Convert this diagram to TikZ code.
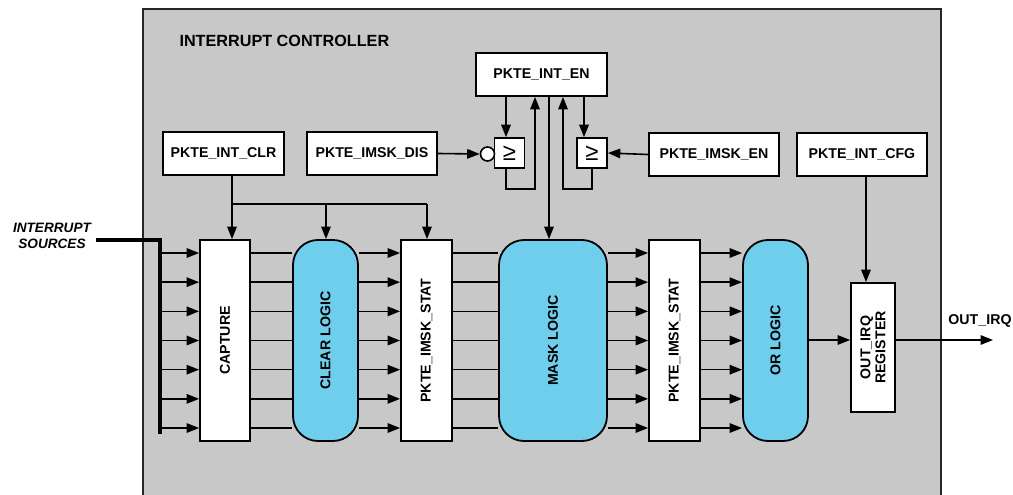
\documentclass[tikz,border=0pt]{standalone}
\usepackage{fontspec}
\setmainfont{Liberation Sans}
\usetikzlibrary{arrows.meta,calc}
\definecolor{ctrlgray}{HTML}{C8C8C8}
\definecolor{logicblue}{HTML}{6ECEEC}
\begin{document}
\begin{tikzpicture}[x=1pt,y=-1pt,
  lbl/.style={font=\fontsize{14.2}{15.5}\selectfont\bfseries},
  reg/.style={draw=black,fill=white,line width=1.8pt,inner sep=0pt,lbl},
  blob/.style={draw=black,fill=logicblue,line width=1.8pt,inner sep=0pt,rounded corners=25pt},
  cmp/.style={draw=black,fill=white,line width=1.6pt,inner sep=0pt,minimum width=30pt,minimum height=30pt,font=\fontsize{24}{24}\selectfont},
  vlbl/.style={rotate=90,lbl,align=center},
  wire/.style={line width=1.6pt},
  arr/.style={wire,-{Triangle[length=12.5pt,width=9.5pt]}},
]
\useasboundingbox (0,0) rectangle (1013,495);
% outer controller
\fill[ctrlgray] (143,9) rectangle (941,500);
\draw[line width=1.4pt,draw=black!85] (143,500) -- (143,9) -- (941,9) -- (941,500);
\node[anchor=west,font=\fontsize{16.2}{18}\selectfont\bfseries] (title) at (176,41) {INTERRUPT CONTROLLER};

% registers top
\node[reg,minimum width=121pt,minimum height=43pt] (intclr) at (223.5,153.5) {PKTE\_INT\_CLR};
\node[reg,minimum width=130pt,minimum height=43pt] (imskdis) at (372,153.5) {PKTE\_IMSK\_DIS};
\node[reg,minimum width=131pt,minimum height=43pt] (inten) at (541.5,74.5) {PKTE\_INT\_EN};
\node[reg,minimum width=130pt,minimum height=43pt] (imsken) at (714,154.5) {PKTE\_IMSK\_EN};
\node[reg,minimum width=130pt,minimum height=43pt] (intcfg) at (862,154.5) {PKTE\_INT\_CFG};
\node[cmp] (cmpL) at (509.5,153) {≥};
\node[cmp] (cmpR) at (592,153) {≥};
\node[draw=black,fill=white,circle,line width=1.6pt,minimum size=14pt,inner sep=0pt] (inv) at (487.5,154) {};

% main row
\node[reg,minimum width=50pt,minimum height=201pt] (capture) at (225,340.5) {};
\node[blob,minimum width=65pt,minimum height=201pt] (clear) at (325.5,340.5) {};
\node[reg,minimum width=51pt,minimum height=201pt] (stat1) at (426.5,340.5) {};
\node[blob,minimum width=108pt,minimum height=201pt] (mask) at (553,340.5) {};
\node[reg,minimum width=51pt,minimum height=201pt] (stat2) at (674.5,340.5) {};
\node[blob,minimum width=65pt,minimum height=201pt] (orl) at (775.5,340.5) {};
\node[reg,minimum width=44pt,minimum height=129pt] (outirq) at (873,347.5) {};

\node[vlbl] (capturet) at (capture.center) {CAPTURE};
\node[vlbl] (cleart) at (clear.center) {CLEAR LOGIC};
\node[vlbl] (stat1t) at (stat1.center) {PKTE\_IMSK\_STAT};
\node[vlbl] (maskt) at (mask.center) {MASK LOGIC};
\node[vlbl] (stat2t) at (stat2.center) {PKTE\_IMSK\_STAT};
\node[vlbl] (orlt) at (orl.center) {OR LOGIC};
\node[vlbl,font=\fontsize{14.2}{15}\selectfont\bfseries] (outirqt) at (outirq.center) {OUT\_IRQ\\REGISTER};

% interrupt sources bus
\node[align=center,font=\fontsize{13.6}{16}\selectfont\bfseries\itshape] (src) at (52,236) {INTERRUPT\\SOURCES};
\coordinate (busA) at (96,240);
\coordinate (busB) at (160,240);
\coordinate (busC) at (160,434);
\draw[line width=4.2pt] (busA) -- (busB) -- (busC);

\foreach \i in {0,...,6}{
  \pgfmathsetmacro{\yy}{253+29.17*\i}
  \draw[arr] (busB |- 0,\yy) -- (capture.west |- 0,\yy);
  \draw[wire] (capture.east |- 0,\yy) -- (clear.west |- 0,\yy);
  \draw[arr] (clear.east |- 0,\yy) -- (stat1.west |- 0,\yy);
  \draw[wire] (stat1.east |- 0,\yy) -- (mask.west |- 0,\yy);
  \draw[arr] (mask.east |- 0,\yy) -- (stat2.west |- 0,\yy);
  \draw[arr] (stat2.east |- 0,\yy) -- (orl.west |- 0,\yy);
}

% clear distribution
\coordinate (clrj) at (232,204);
\draw[wire] (intclr.south -| clrj) -- (clrj) -- (427,204);
\draw[arr] (clrj) -- (clrj |- capture.north);
\draw[arr] (326,204) -- (326,239) coordinate (clrB);
\draw[arr] (427,204) -- (427,239) coordinate (clrC);

% enable/disable comparators
\draw[arr] (imskdis.east) -- (inv.west);
\draw[arr] (imsken.west) -- (cmpR.east);
\draw[arr] (inten.south -| 506,0) -- (cmpL.north -| 506,0);
\draw[arr] (inten.south -| 584,0) -- (cmpR.north -| 584,0);
\draw[arr] (cmpL.south -| 506,0) -- (506,189) -- (535,189) -- (inten.south -| 535,0);
\draw[arr] (cmpR.south -| 592,0) -- (592,189) -- (563,189) -- (inten.south -| 563,0);
\draw[arr] (inten.south -| 549,0) -- (mask.north -| 549,0);

% output
\draw[arr] (intcfg.south -| 866,0) -- (outirq.north -| 866,0);
\draw[arr] (orl.east |- 0,340) -- (outirq.west |- 0,340);
\coordinate (outend) at (993,340);
\draw[arr] (outirq.east |- outend) -- (outend);
\node[lbl] (outlbl) at (980,321) {OUT\_IRQ};
\end{tikzpicture}
\end{document}
